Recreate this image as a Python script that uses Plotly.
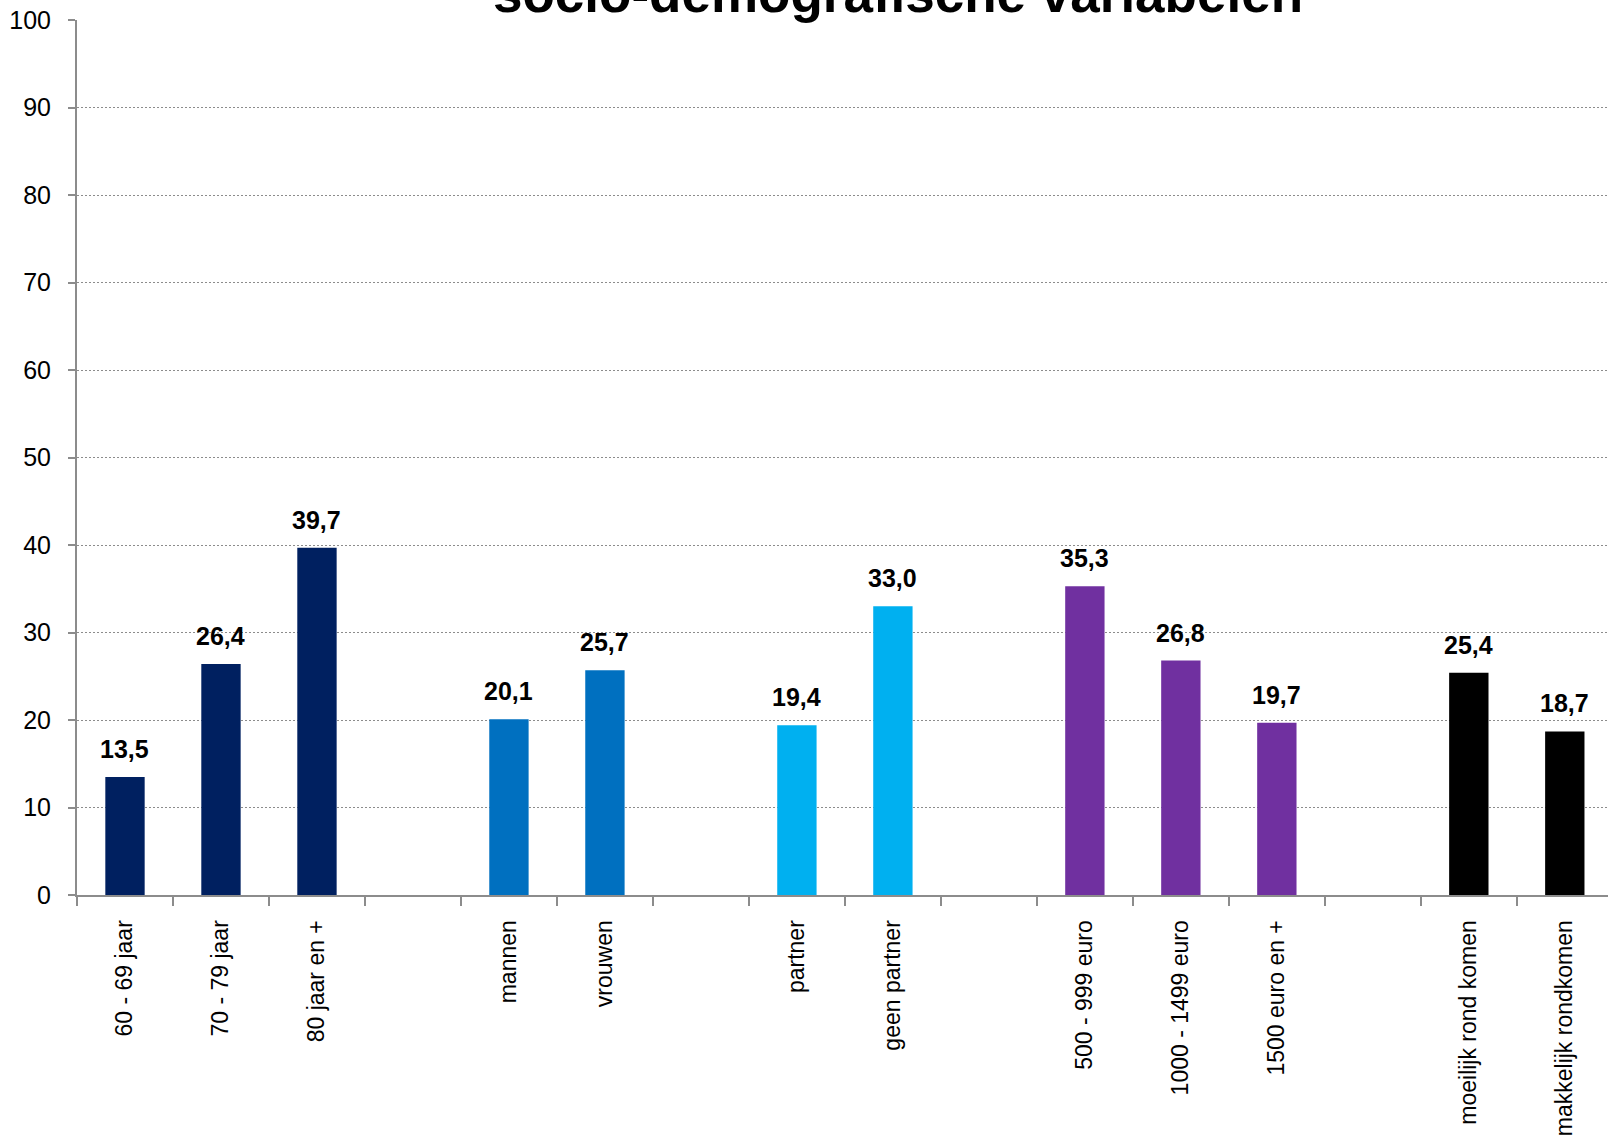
import plotly.graph_objects as go

# Groups of socio-demographic variables (percentages)
age_labels = ["60 - 69 jaar", "70 - 79 jaar", "80 jaar en +"]
age_values = [13.5, 26.4, 39.7]

sex_labels = ["mannen", "vrouwen"]
sex_values = [20.1, 25.7]

partner_labels = ["partner", "geen partner"]
partner_values = [19.4, 33.0]

income_labels = ["500 - 999 euro", "1000 - 1499 euro", "1500 euro en +"]
income_values = [35.3, 26.8, 19.7]

budget_labels = ["moeilijk rond komen", "makkelijk rondkomen"]
budget_values = [25.4, 18.7]

group_colors = ["#002060", "#0070C0", "#00B0F0", "#7030A0", "#000000"]

y_ticks = [0, 10, 20, 30, 40, 50, 60, 70, 80, 90, 100]

title_text = "socio-demografische variabelen"

FONT = "Liberation Sans Narrow, Arial Narrow, Liberation Sans, Arial, sans-serif"

groups = [
    (age_labels, age_values),
    (sex_labels, sex_values),
    (partner_labels, partner_values),
    (income_labels, income_values),
    (budget_labels, budget_values),
]

# Build one category axis with an empty slot between groups
cats, vals, cols = [], [], []
for gi, (labels, values) in enumerate(groups):
    if gi > 0:
        cats.append(" " * gi)
        vals.append(None)
        cols.append("rgba(0,0,0,0)")
    cats.extend(labels)
    vals.extend(values)
    cols.extend([group_colors[gi]] * len(labels))

fig = go.Figure()
fig.add_trace(go.Bar(
    x=cats, y=vals,
    marker=dict(color=cols, line=dict(width=0)),
    hoverinfo="skip",
))

# Value labels above each bar
for c, v in zip(cats, vals):
    if v is None:
        continue
    fig.add_annotation(
        x=c, y=v, xref="x", yref="y",
        text=f"{v:.1f}".replace(".", ","),
        showarrow=False, yanchor="bottom", yshift=12,
        font=dict(family=FONT, size=25, color="#000000", weight="bold"),
    )

# Title (partly above the visible area)
fig.add_annotation(
    x=0.536, y=0.994, xref="paper", yref="paper",
    text=title_text, showarrow=False, xanchor="center", yanchor="bottom",
    font=dict(family=FONT, size=53, color="#000000", weight="bold"),
)

fig.update_layout(
    width=1608, height=1141,
    margin=dict(l=77, r=0, t=20, b=246, pad=0),
    paper_bgcolor="#ffffff", plot_bgcolor="#ffffff",
    bargap=0.59, showlegend=False,
    font=dict(family=FONT, color="#000000"),
)

fig.update_xaxes(
    type="category", categoryorder="array", categoryarray=cats,
    range=[-0.5, 15.45],
    tickson="boundaries", ticks="outside", ticklen=9, tickwidth=2, tickcolor="#8c8c8c",
    showline=True, linecolor="#8c8c8c", linewidth=2,
    showgrid=False, tickangle=-90,
    tickfont=dict(family=FONT, size=23, color="#000000"),
    ticklabelstandoff=14,
)

fig.update_yaxes(
    range=[0, 100], tickvals=y_ticks,
    ticks="outside", ticklen=7, tickwidth=2, tickcolor="#8c8c8c",
    showline=True, linecolor="#8c8c8c", linewidth=2,
    showgrid=True, gridcolor="#8c8c8c", gridwidth=1, griddash="2px,2px",
    zeroline=False,
    tickfont=dict(family=FONT, size=25, color="#000000"),
    ticklabelstandoff=12,
)

fig.write_html("out.html")
